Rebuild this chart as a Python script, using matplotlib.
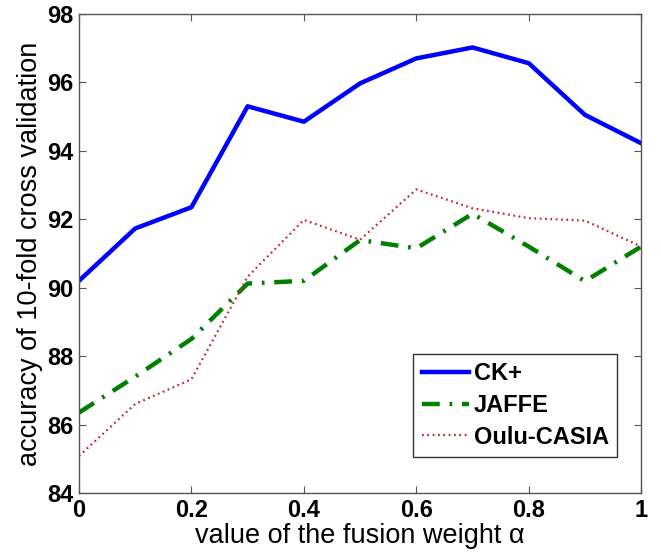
import numpy as np
import matplotlib
matplotlib.use('Agg')
import matplotlib.pyplot as plt

plt.rcParams['font.family'] = ['Liberation Sans', 'DejaVu Sans']

alpha = [0, 0.1, 0.2, 0.3, 0.4, 0.5, 0.6, 0.7, 0.8, 0.9, 1.0]
ck_plus = [90.2, 91.73, 92.35, 95.3, 94.85, 95.97, 96.7, 97.02, 96.56, 95.05, 94.22]
jaffe = [86.35, 87.4, 88.5, 90.12, 90.2, 91.39, 91.15, 92.16, 91.2, 90.19, 91.2]
oulu = [85.08, 86.6, 87.32, 90.32, 91.98, 91.4, 92.87, 92.32, 92.03, 91.96, 91.2]

xticks = [0, 0.2, 0.4, 0.6, 0.8, 1]
xtick_labels = ['0', '0.2', '0.4', '0.6', '0.8', '1']
yticks = [84, 86, 88, 90, 92, 94, 96, 98]

fig = plt.figure(figsize=(6.61, 5.57), dpi=100)
ax = fig.add_axes([0.1195, 0.115, 0.8505, 0.86])

ax.plot(alpha, ck_plus, color='#0000ff', lw=3.2, label='CK+')
ax.plot(alpha, jaffe, color='#007f00', lw=3.2, linestyle=(0, (4, 2.2, 0.6, 2.2)), label='JAFFE')
ax.plot(alpha, oulu, color='#cc2233', lw=1.6, linestyle=(0, (0.8, 1.6)), label='Oulu-CASIA')

ax.set_xlim(0, 1)
ax.set_ylim(84, 98)
ax.set_xticks(xticks)
ax.set_xticklabels(xtick_labels)
ax.set_yticks(yticks)

for s in ax.spines.values():
    s.set_color('#555555')
    s.set_linewidth(1.0)
ax.tick_params(direction='in', length=5, width=0.8, color='#555555',
               top=True, right=True, labelsize=17, pad=4)
for lab in ax.get_xticklabels() + ax.get_yticklabels():
    lab.set_fontweight('bold')

ax.set_xlabel('value of the fusion weight α', fontsize=19.5, labelpad=1)
ax.set_ylabel('accuracy of 10-fold cross validation', fontsize=19.5, labelpad=3)

leg = ax.legend(loc='lower right', bbox_to_anchor=(0.957, 0.075), borderaxespad=0,
                prop={'weight': 'bold', 'size': 17}, handlelength=2.0, handletextpad=0.2,
                labelspacing=0.38, borderpad=0.35, fancybox=False, framealpha=1)
leg.get_frame().set_edgecolor('#333333')
leg.get_frame().set_linewidth(1.0)

fig.savefig('out.png', dpi=100)
